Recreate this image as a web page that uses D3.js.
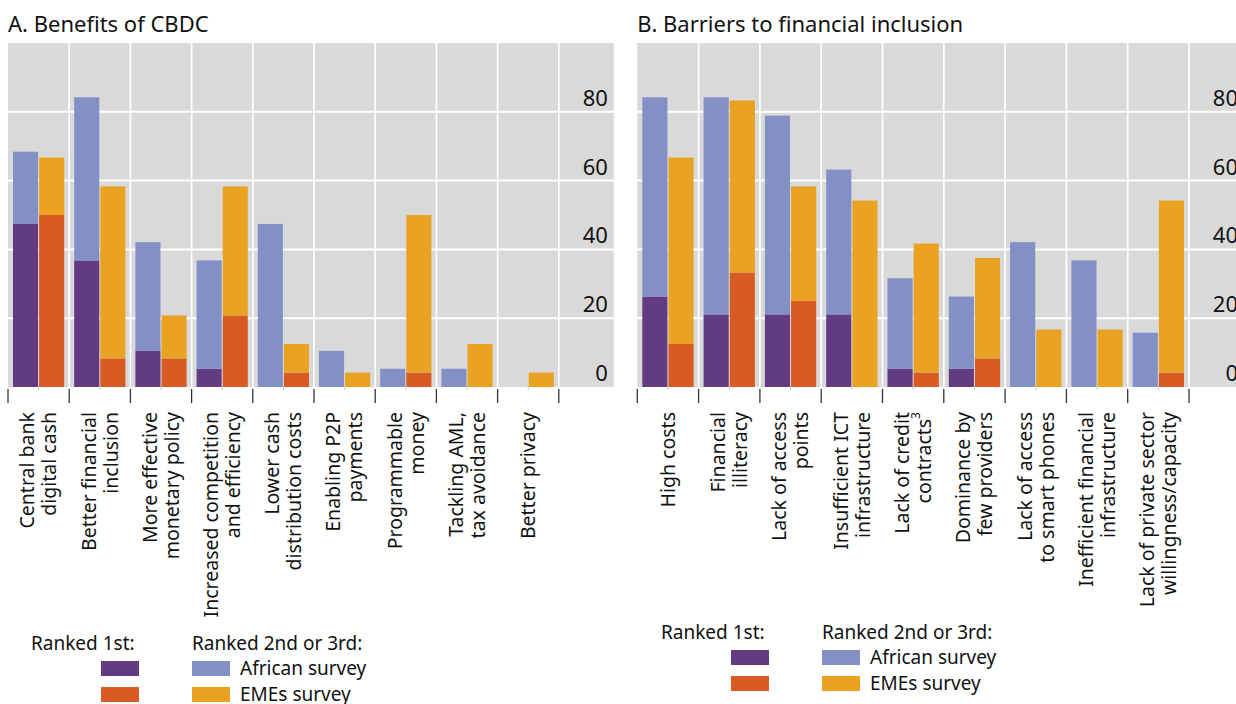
<!DOCTYPE html>
<html>
<head>
<meta charset="utf-8">
<script src="https://cdn.jsdelivr.net/npm/d3@7"></script>
<style>
  html, body { margin: 0; padding: 0; background: #fff; }
  svg { display: block; font-family: "Noto Sans", "Open Sans", sans-serif; }
</style>
</head>
<body>
<svg id="chart" width="1236" height="704"></svg>
<script>
// Panel A: benefits of CBDC (share of respondents, %)
const benefitLabels = [
  ["Central bank", "digital cash"],
  ["Better financial", "inclusion"],
  ["More effective", "monetary policy"],
  ["Increased competition", "and efficiency"],
  ["Lower cash", "distribution costs"],
  ["Enabling P2P", "payments"],
  ["Programmable", "money"],
  ["Tackling AML,", "tax avoidance"],
  ["Better privacy"]
];
const benefitAfricaFirst = [47.4, 36.8, 10.5, 5.3, 0, 0, 0, 0, 0];
const benefitAfricaOther = [21.0, 47.4, 31.6, 31.5, 47.4, 10.5, 5.3, 5.3, 0];
const benefitEmeFirst    = [50.0, 8.3, 8.3, 20.8, 4.2, 0, 4.2, 0, 0];
const benefitEmeOther    = [16.7, 50.0, 12.5, 37.5, 8.3, 4.2, 45.8, 12.5, 4.2];

// Panel B: barriers to financial inclusion (share of respondents, %)
const barrierLabels = [
  ["High costs"],
  ["Financial", "illiteracy"],
  ["Lack of access", "points"],
  ["Insufficient ICT", "infrastructure"],
  ["Lack of credit", "contracts|3"],
  ["Dominance by", "few providers"],
  ["Lack of access", "to smart phones"],
  ["Inefficient financial", "infrastructure"],
  ["Lack of private sector", "willingness/capacity"]
];
const barrierAfricaFirst = [26.3, 21.1, 21.1, 21.1, 5.3, 5.3, 0, 0, 0];
const barrierAfricaOther = [57.9, 63.1, 57.8, 42.1, 26.3, 21.0, 42.1, 36.8, 15.8];
const barrierEmeFirst    = [12.5, 33.3, 25.0, 0, 4.2, 8.3, 0, 0, 4.2];
const barrierEmeOther    = [54.2, 50.0, 33.3, 54.2, 37.5, 29.2, 16.7, 16.7, 50.0];

const yTicks = [0, 20, 40, 60, 80];

const colors = {
  africaFirst: "#633b82",
  africaOther: "#8290c6",
  emeFirst: "#d75b23",
  emeOther: "#e9a222"
};

const svg = d3.select("#chart");
const y = d3.scaleLinear().domain([0, 100]).range([387, 43]);

function drawPanel(opts) {
  const { left, step, title, labels, africaFirst, africaOther, emeFirst, emeOther } = opts;
  const n = labels.length;
  const ids = d3.range(n);
  const x = d3.scaleBand().domain(ids).range([left, left + n * step]).padding(0);
  const sub = d3.scaleBand().domain(["africa", "eme"]).range([5, step - 5]).paddingInner(0.04).paddingOuter(0);
  const right = left + n * step + 55;
  const g = svg.append("g");

  g.append("text")
    .attr("x", left).attr("y", 32)
    .attr("font-size", 22).attr("fill", "#111")
    .text(title);

  // plot background
  g.append("rect")
    .attr("x", left).attr("y", y(100))
    .attr("width", right - left).attr("height", y(0) - y(100))
    .attr("fill", "#d9d9d9");

  // horizontal grid
  g.selectAll("line.hgrid").data(yTicks.filter(d => d > 0)).join("line")
    .attr("x1", left).attr("x2", right)
    .attr("y1", d => y(d)).attr("y2", d => y(d))
    .attr("stroke", "#fff").attr("stroke-width", 2);

  // vertical grid at category boundaries
  g.selectAll("line.vgrid").data(d3.range(1, n + 1)).join("line")
    .attr("x1", i => left + i * step).attr("x2", i => left + i * step)
    .attr("y1", y(100)).attr("y2", y(0))
    .attr("stroke", "#fff").attr("stroke-width", 1.7);

  // stacked bars: ranked 1st at the base, ranked 2nd or 3rd above
  const rows = ids.map(i => ({
    i,
    africa: [africaFirst[i], africaOther[i]],
    eme: [emeFirst[i], emeOther[i]]
  }));
  const segs = [];
  rows.forEach(r => {
    [["africa", colors.africaFirst, colors.africaOther], ["eme", colors.emeFirst, colors.emeOther]].forEach(([key, c1, c2]) => {
      const [a, b] = r[key];
      segs.push({ i: r.i, key, y0: 0, y1: a, color: c1 });
      segs.push({ i: r.i, key, y0: a, y1: a + b, color: c2 });
    });
  });
  g.selectAll("rect.bar").data(segs.filter(s => s.y1 > s.y0)).join("rect")
    .attr("x", s => x(s.i) + sub(s.key))
    .attr("width", sub.bandwidth())
    .attr("y", s => y(s.y1))
    .attr("height", s => y(s.y0) - y(s.y1))
    .attr("fill", s => s.color);

  // small marks between the paired bars
  g.selectAll("line.mid").data(ids).join("line")
    .attr("x1", i => x(i) + step / 2).attr("x2", i => x(i) + step / 2)
    .attr("y1", y(0)).attr("y2", y(0) + 3)
    .attr("stroke", "#c8c8c8").attr("stroke-width", 1);

  // y labels on the right
  g.selectAll("text.ylab").data(yTicks).join("text")
    .attr("x", left + n * step + 49)
    .attr("y", d => y(d) - 6)
    .attr("text-anchor", "end")
    .attr("font-size", 22).attr("fill", "#111")
    .text(d => d);

  // x axis ticks
  g.selectAll("line.tick").data(d3.range(0, n + 1)).join("line")
    .attr("x1", i => left + i * step).attr("x2", i => left + i * step)
    .attr("y1", 389).attr("y2", 403)
    .attr("stroke", "#333").attr("stroke-width", 1.3);

  // rotated category labels
  const lh = 22;
  ids.forEach(i => {
    const lines = labels[i];
    const cx = x(i) + x.bandwidth() / 2;
    const t = g.append("text")
      .attr("transform", `translate(${cx},412) rotate(-90)`)
      .attr("text-anchor", "end")
      .attr("font-size", 19.5).attr("fill", "#111");
    lines.forEach((line, k) => {
      const off = (k - (lines.length - 1) / 2) * lh;
      const [main, sup] = line.split("|");
      const ts = t.append("tspan").attr("x", 0).attr("y", off).attr("dy", "0.35em").text(main);
      if (sup) {
        t.append("tspan").attr("font-size", 12).attr("dy", "-0.9em").text(sup);
      }
    });
  });

  // legend
  const lg = svg.append("g").attr("transform", `translate(${opts.legendX},${opts.legendY})`);
  lg.append("text").attr("x", 0).attr("y", 0).attr("font-size", 19).attr("fill", "#111").text("Ranked 1st:");
  lg.append("text").attr("x", 161).attr("y", 0).attr("font-size", 19).attr("fill", "#111").text("Ranked 2nd or 3rd:");
  const swatches = [
    { x: 70, y: 11, c: colors.africaFirst },
    { x: 70, y: 37, c: colors.emeFirst },
    { x: 161, y: 11, c: colors.africaOther },
    { x: 161, y: 37, c: colors.emeOther }
  ];
  lg.selectAll("rect").data(swatches).join("rect")
    .attr("x", d => d.x).attr("y", d => d.y)
    .attr("width", 38).attr("height", 15)
    .attr("fill", d => d.c);
  lg.append("text").attr("x", 209).attr("y", 25).attr("font-size", 19).attr("fill", "#111").text("African survey");
  lg.append("text").attr("x", 209).attr("y", 51).attr("font-size", 19).attr("fill", "#111").text("EMEs survey");
}

drawPanel({
  left: 8, step: 61.2, title: "A. Benefits of CBDC", labels: benefitLabels,
  africaFirst: benefitAfricaFirst, africaOther: benefitAfricaOther,
  emeFirst: benefitEmeFirst, emeOther: benefitEmeOther,
  legendX: 31, legendY: 650
});
drawPanel({
  left: 637.3, step: 61.3, title: "B. Barriers to financial inclusion", labels: barrierLabels,
  africaFirst: barrierAfricaFirst, africaOther: barrierAfricaOther,
  emeFirst: barrierEmeFirst, emeOther: barrierEmeOther,
  legendX: 661, legendY: 639
});
</script>
</body>
</html>
